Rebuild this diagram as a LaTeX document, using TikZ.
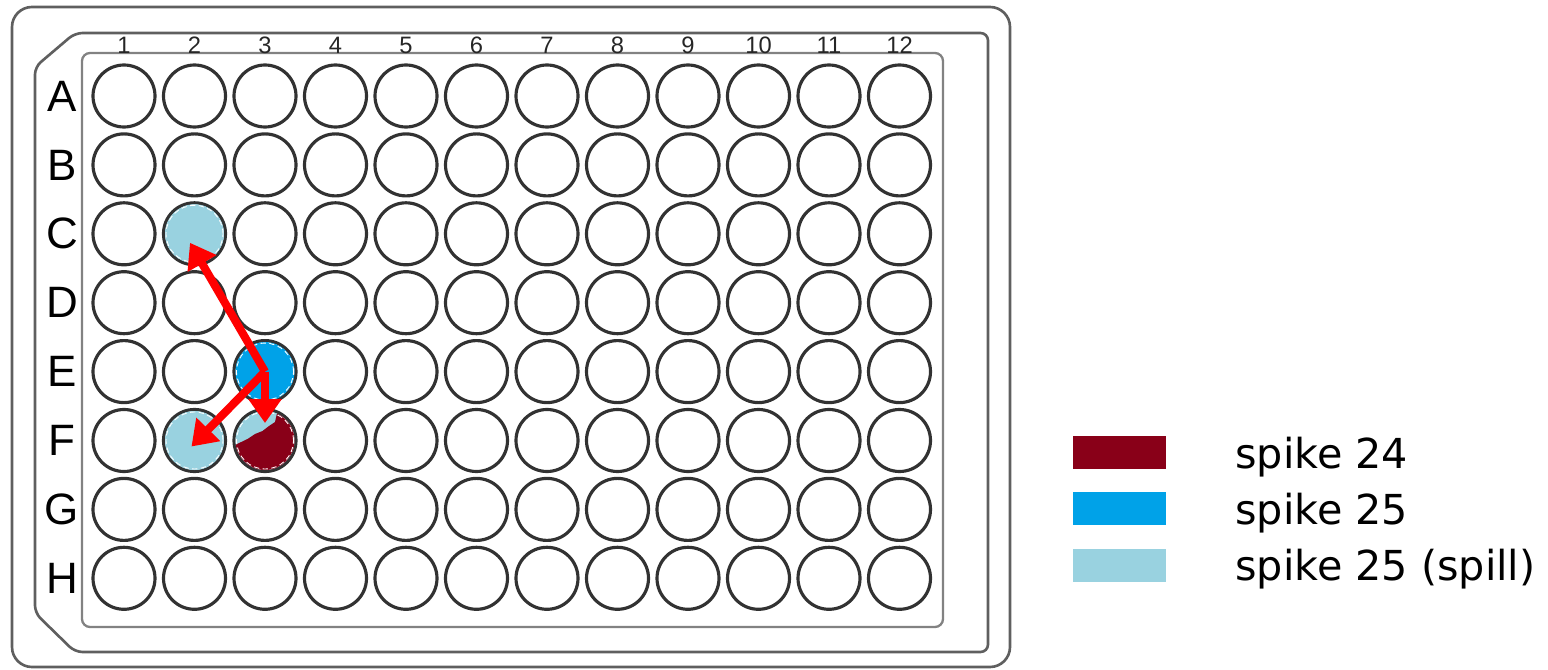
\documentclass[tikz,border=0pt]{standalone}
\usepackage{fontspec}
\usepackage{tikz}
\usetikzlibrary{arrows.meta, calc}
\newfontfamily\platefont{Liberation Sans}
\newfontfamily\legendfont{DejaVu Sans}
\definecolor{WO}{RGB}{50,50,50}
\definecolor{FR}{RGB}{95,95,95}
\definecolor{FL}{RGB}{130,130,130}
\definecolor{SR}{RGB}{137,0,24}
\definecolor{SB}{RGB}{0,162,232}
\definecolor{SL}{RGB}{153,210,224}
\definecolor{AR}{RGB}{255,0,0}

\tikzset{
  well/.style={circle, draw=WO, line width=1.8pt, minimum size=1.24cm, inner sep=0pt},
  platebox/.style={draw=FR, line width=1.5pt},
  rowlab/.style={font=\platefont\fontsize{25}{25}\selectfont, text=black},
  collab/.style={font=\platefont\fontsize{13.5}{14}\selectfont, text=black!85},
  legbox/.style={minimum width=1.86cm, minimum height=0.66cm, inner sep=0pt},
  legtext/.style={font=\legendfont\fontsize{23.5}{26}\selectfont, anchor=west, inner sep=0pt},
  spillarrow/.style={-{Triangle[length=0.48cm,width=0.64cm]}, draw=AR, line width=4.6pt},
}

\begin{document}
\begin{tikzpicture}
\useasboundingbox (0,0) rectangle (30.96,-13.4);

% Plate outline (outer, chamfered, inner)
\draw[platebox, rounded corners=0.4cm] (0.24,-0.14) rectangle (20.2,-13.34);
\draw[platebox, rounded corners=0.15cm]
  (0.7,-1.34) -- (1.5,-0.66) -- (19.76,-0.66) -- (19.76,-13.04)
  -- (1.5,-13.04) -- (0.7,-12.26) -- cycle;
\draw[draw=FL, line width=1.3pt, rounded corners=0.16cm] (1.64,-1.06) rectangle (18.86,-12.54);

% Column numbers
\foreach \c in {1,...,12}
  \node[collab] (n\c) at ({2.48+1.41*(\c-1)}, -0.9) {\c};

% Row letters and wells
\foreach \r [count=\i] in {A,B,C,D,E,F,G,H} {
  \node[rowlab] (l\r) at (1.24, {-1.92-1.378*(\i-1)}) {\r};
  \foreach \c in {1,...,12}
    \node[well] (w\r\c) at ({2.48+1.41*(\c-1)}, {-1.92-1.378*(\i-1)}) {};
}

% Filled wells
\fill[SL] (wC2.center) circle (0.59);
\fill[SL] (wF2.center) circle (0.59);
\fill[SB] (wE3.center) circle (0.59);
\fill[SL] (wF3.center) circle (0.59);
\begin{scope}
  \clip (wF3.center) circle (0.59);
  \fill[SR] (4.7,-8.9) -- (4.95,-8.78) -- (5.1,-8.68) -- (5.25,-8.62)
    -- (5.38,-8.52) -- (5.5,-8.44) -- (5.6,-8.0) -- (6.0,-8.0)
    -- (6.0,-9.7) -- (4.6,-9.7) -- cycle;
\end{scope}
\foreach \w in {wC2,wF2,wE3,wF3}
  \draw[white, densely dashed, line width=0.5pt] (\w.center) circle (0.57);

% Spill arrows
\draw[spillarrow] (wE3.center) -- ($(wC2.center)+(-0.09,-0.18)$);
\draw[spillarrow] (wE3.center) -- ($(wF3.center)+(0,0.35)$);
\draw[spillarrow] (wE3.center) -- ($(wF2.center)+(-0.06,-0.12)$);

% Legend
\node[legbox, fill=SR] (k24) at (22.39,-9.05) {};
\node[legbox, fill=SB] (k25) at (22.39,-10.17) {};
\node[legbox, fill=SL] (ks) at (22.39,-11.3) {};
\node[legtext] (t24) at (24.7,-9.14) {spike 24};
\node[legtext] (t25) at (24.7,-10.26) {spike 25};
\node[legtext] (ts) at (24.7,-11.39) {spike 25 (spill)};
\end{tikzpicture}
\end{document}
